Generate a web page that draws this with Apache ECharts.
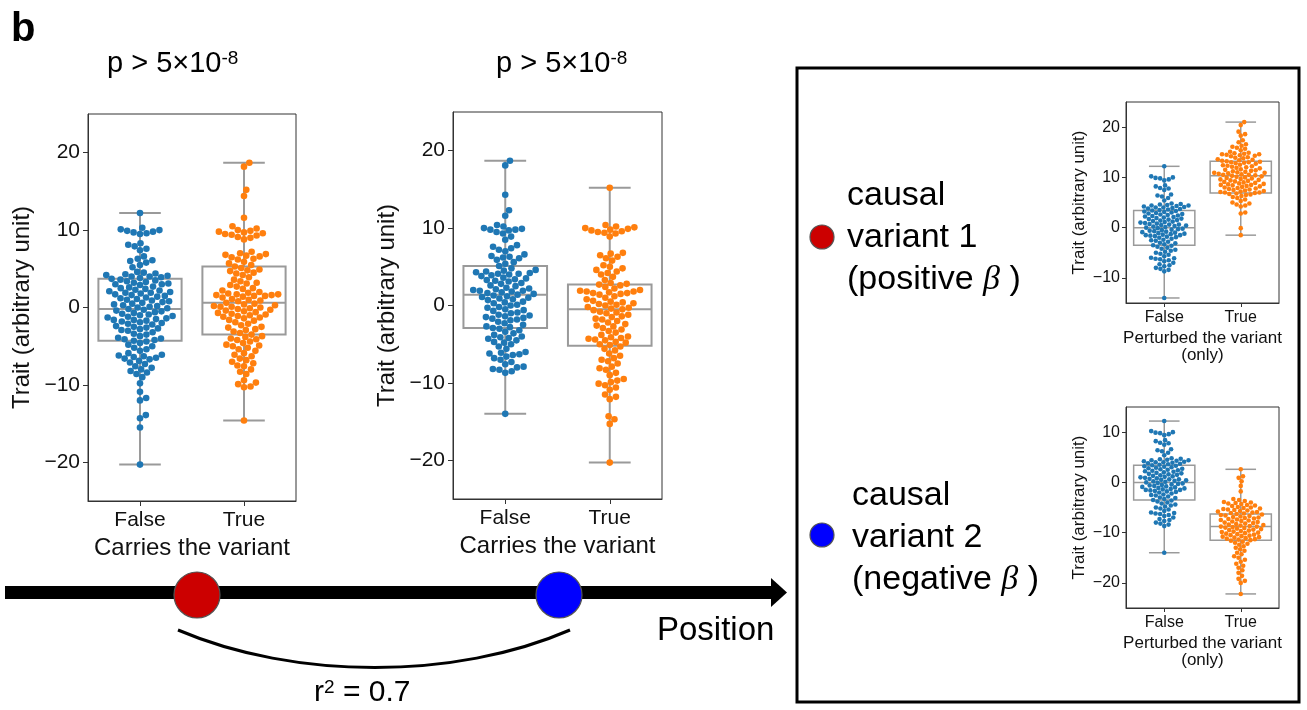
<!DOCTYPE html>
<html><head><meta charset="utf-8">
<script src="https://cdn.jsdelivr.net/npm/echarts@6/dist/echarts.min.js"></script>
<style>html,body{margin:0;padding:0;background:#fff}#c{width:1307px;height:710px}</style>
</head><body><div id="c"></div>
<script>
// ---------------- data ----------------
const categories = ['False', 'True'];
const bigTicks = [-20, -10, 0, 10, 20];
const inset1Ticks = [-10, 0, 10, 20];
const inset2Ticks = [-20, -10, 0, 10];

// panel 1 : carries variant 1
const p1False = [12.2, 10.3, 10.1, 10.0, 9.9, 9.8, 9.7, 9.6, 9.5, 8.3, 8.1, 7.9, 7.6, 7.4, 6.6, 6.3, 6.1, 6.0, 5.8, 5.5, 5.2,
  4.6, 4.5, 4.4, 4.3, 4.2, 4.1, 4.0, 4.0, 3.9, 3.8, 3.7, 3.6, 3.5, 3.4, 3.3, 3.2, 3.1, 3.0, 3.0, 2.9, 2.7, 2.6, 2.5, 2.4, 2.3, 2.2, 2.1, 2.0,
  1.9, 1.9, 1.8, 1.7, 1.6, 1.5, 1.4, 1.3, 1.2, 1.1, 1.0, 0.9, 0.8, 0.7, 0.6, 0.5, 0.4, 0.3, 0.2, 0.1, 0.0, -0.1, -0.2, -0.3, -0.4, -0.5,
  -0.6, -0.7, -0.8, -0.9, -1.0, -1.1, -1.2, -1.3, -1.4, -1.5, -1.6, -1.6, -1.7, -1.8, -1.9, -2.0, -2.1, -2.2, -2.4, -2.5, -2.6, -2.7, -2.8,
  -2.9, -3.0, -3.2, -3.4, -3.5, -3.7, -3.9, -4.0, -4.1, -4.2, -4.3, -4.4, -4.6, -4.8, -5.0, -5.2, -5.4, -5.6, -5.9, -6.1, -6.2, -6.3, -6.4,
  -6.5, -6.6, -6.7, -6.9, -7.1, -7.3, -7.6, -7.8, -8.0, -8.2, -8.4, -8.6, -9.0, -9.8, -10.9, -11.7, -12.0, -13.9, -14.3, -15.5, -20.3];
const p1True = [18.7, 18.2, 15.2, 14.4, 11.6, 10.5, 10.2, 10.0, 9.9, 9.8, 9.7, 9.6, 9.5, 9.4, 9.3, 9.1, 9.0, 8.8, 7.2, 7.0, 6.9, 6.8, 6.7,
  6.6, 6.5, 6.3, 6.2, 5.9, 5.7, 5.5, 5.3, 5.1, 4.9, 4.8, 4.7, 4.5, 4.4, 4.2, 3.9, 3.6, 3.4, 3.2, 3.1, 2.9, 2.7, 2.5, 2.4, 2.2, 2.0, 1.9,
  1.8, 1.7, 1.7, 1.6, 1.6, 1.5, 1.5, 1.4, 1.3, 1.1, 1.0, 0.9, 0.8, 0.6, 0.5, 0.4, 0.3, 0.2, 0.1, 0.1, 0.0, -0.1, -0.2, -0.3, -0.4, -0.5,
  -0.6, -0.7, -0.8, -0.9, -1.0, -1.1, -1.2, -1.3, -1.4, -1.6, -1.7, -1.9, -2.1, -2.3, -2.5, -2.6, -2.8, -2.9, -3.1, -3.3, -3.5, -3.7, -3.8,
  -4.0, -4.1, -4.2, -4.4, -4.6, -4.8, -4.9, -5.0, -5.2, -5.4, -5.6, -5.9, -6.1, -6.3, -6.6, -6.8, -7.0, -7.2, -7.5, -7.6, -8.0, -8.3, -8.6,
  -9.4, -9.7, -9.9, -10.2, -10.3, -14.6];
// panel 2 : carries variant 2
const p2False = [18.7, 18.1, 14.3, 12.3, 11.6, 10.4, 10.2, 10.0, 9.9, 9.8, 9.8, 9.7, 9.5, 9.3, 8.9, 8.5, 7.8, 7.6, 7.4, 7.2, 7.0, 6.6,
  6.4, 6.3, 6.2, 6.1, 5.9, 5.6, 5.4, 5.1, 4.8, 4.6, 4.5, 4.4, 4.3, 4.2, 4.1, 4.1, 4.0, 3.9, 3.8, 3.6, 3.5, 3.4, 3.3, 3.2, 3.1, 2.9, 2.8,
  2.6, 2.5, 2.3, 2.2, 2.1, 2.0, 1.9, 1.9, 1.8, 1.7, 1.6, 1.5, 1.4, 1.3, 1.2, 1.1, 1.0, 0.9, 0.8, 0.7, 0.5, 0.4, 0.3, 0.1, 0.0, -0.2, -0.3,
  -0.5, -0.6, -0.7, -0.9, -1.0, -1.2, -1.3, -1.4, -1.5, -1.6, -1.7, -1.8, -1.9, -2.1, -2.3, -2.5, -2.7, -2.8, -2.9, -3.0, -3.2, -3.4, -3.6,
  -3.8, -4.0, -4.1, -4.2, -4.3, -4.5, -4.7, -4.8, -5.0, -5.3, -5.6, -6.0, -6.1, -6.2, -6.3, -6.4, -6.6, -6.8, -7.0, -7.3, -7.6, -7.9, -8.0,
  -8.2, -8.3, -8.5, -8.7, -14.0];
const p2True = [15.2, 10.4, 10.2, 10.1, 10.0, 9.9, 9.8, 9.7, 9.6, 9.5, 9.4, 9.3, 8.9, 6.8, 6.7, 6.5, 6.3, 6.1, 5.8, 5.2, 5.0, 4.8, 4.6,
  4.4, 4.2, 4.0, 3.7, 3.3, 2.9, 2.8, 2.7, 2.6, 2.4, 2.2, 2.0, 1.9, 1.8, 1.8, 1.7, 1.6, 1.6, 1.5, 1.4, 1.2, 1.0, 0.8, 0.6, 0.5, 0.4, 0.3,
  0.2, 0.1, 0.0, -0.2, -0.3, -0.4, -0.5, -0.6, -0.8, -0.9, -1.0, -1.2, -1.4, -1.5, -1.7, -1.8, -2.0, -2.2, -2.4, -2.6, -2.7, -2.9, -3.1,
  -3.3, -3.5, -3.8, -4.0, -4.1, -4.2, -4.3, -4.4, -4.5, -4.7, -4.8, -5.0, -5.1, -5.3, -5.6, -5.8, -6.2, -6.5, -6.8, -7.0, -7.2, -7.5, -7.9,
  -8.1, -8.3, -8.7, -9.0, -9.5, -9.7, -9.9, -10.1, -10.3, -10.6, -10.9, -11.5, -11.8, -12.1, -14.3, -14.7, -15.3, -20.3];
// insets : perturbed the variant only
const insetFalse = [12.2, 10.2, 10.0, 9.9, 9.8, 9.6, 9.4, 8.4, 8.2, 7.9, 7.8, 7.5, 6.6, 6.4, 6.2, 5.9, 5.4, 4.8, 4.7, 4.6, 4.5, 4.4, 4.4,
  4.3, 4.2, 4.1, 4.0, 4.0, 3.9, 3.8, 3.7, 3.6, 3.5, 3.4, 3.3, 3.2, 3.1, 3.0, 2.9, 2.8, 2.7, 2.6, 2.5, 2.4, 2.3, 2.2, 2.1, 2.0, 1.9, 1.8,
  1.7, 1.6, 1.5, 1.4, 1.3, 1.2, 1.1, 1.0, 0.9, 0.8, 0.7, 0.6, 0.6, 0.5, 0.4, 0.3, 0.2, 0.1, 0.0, -0.1, -0.2, -0.3, -0.4, -0.5, -0.6, -0.7,
  -0.8, -0.9, -1.0, -1.1, -1.2, -1.3, -1.4, -1.5, -1.5, -1.6, -1.7, -1.8, -1.9, -2.0, -2.2, -2.4, -2.5, -2.6, -2.8, -3.0, -3.1, -3.3, -3.5,
  -3.6, -3.8, -4.0, -4.2, -4.4, -4.6, -4.8, -5.0, -5.2, -5.4, -5.7, -6.0, -6.1, -6.2, -6.3, -6.5, -6.7, -7.0, -7.3, -7.5, -7.7, -8.0, -8.2,
  -8.4, -8.7, -14.0];
const inset1True = [21.0, 20.4, 19.1, 18.6, 18.3, 17.4, 17.0, 16.6, 16.3, 16.1, 15.9, 15.7, 15.4, 15.1, 14.9, 14.8, 14.7, 14.6, 14.6, 14.5,
  14.4, 14.3, 14.2, 14.0, 13.9, 13.8, 13.6, 13.5, 13.4, 13.3, 13.2, 13.1, 13.0, 13.0, 12.9, 12.8, 12.7, 12.5, 12.4, 12.3, 12.2, 12.1, 12.0,
  11.9, 11.8, 11.6, 11.5, 11.4, 11.3, 11.2, 11.1, 11.0, 10.9, 10.9, 10.8, 10.7, 10.6, 10.5, 10.5, 10.4, 10.3, 10.2, 10.1, 10.0, 9.9, 9.8,
  9.7, 9.6, 9.5, 9.4, 9.3, 9.2, 9.1, 9.0, 8.9, 8.8, 8.7, 8.6, 8.5, 8.5, 8.4, 8.3, 8.2, 8.1, 8.0, 7.9, 7.8, 7.7, 7.6, 7.5, 7.4, 7.3, 7.2,
  7.1, 7.0, 7.0, 6.9, 6.8, 6.7, 6.6, 6.5, 6.3, 6.1, 5.9, 5.6, 5.3, 5.0, 4.8, 4.6, 4.4, 4.2, 3.0, 2.8, -0.1, -1.5];
const inset2True = [2.6, 1.2, 0.9, 0.2, -0.7, -1.8, -3.3, -3.5, -3.7, -3.9, -4.0, -4.1, -4.2, -4.3, -4.5, -4.6, -4.7, -4.9, -5.0, -5.1,
  -5.2, -5.3, -5.4, -5.5, -5.6, -5.7, -5.8, -5.9, -6.0, -6.1, -6.2, -6.3, -6.4, -6.5, -6.6, -6.7, -6.8, -6.9, -7.0, -7.1, -7.2, -7.3, -7.4,
  -7.5, -7.6, -7.7, -7.8, -7.9, -8.0, -8.1, -8.2, -8.3, -8.4, -8.5, -8.6, -8.7, -8.8, -8.8, -8.9, -9.0, -9.1, -9.2, -9.3, -9.4, -9.5, -9.6,
  -9.7, -9.8, -9.9, -10.0, -10.1, -10.2, -10.3, -10.4, -10.5, -10.6, -10.7, -10.8, -10.9, -11.0, -11.1, -11.2, -11.3, -11.4, -11.5, -11.6,
  -11.8, -12.0, -12.2, -12.4, -12.7, -13.0, -13.3, -13.6, -14.0, -14.3, -14.7, -15.0, -15.4, -15.8, -16.2, -16.6, -17.0, -17.5, -18.0,
  -18.6, -19.2, -19.6, -20.0, -22.2];

// box statistics [min, Q1, median, Q3, max]
const p1FalseBox = [-20.3, -4.3, -0.2, 3.7, 12.2];
const p1TrueBox = [-14.6, -3.5, 0.6, 5.3, 18.7];
const p2FalseBox = [-14.0, -2.9, 1.4, 5.1, 18.7];
const p2TrueBox = [-20.3, -5.2, -0.5, 2.7, 15.2];
const insetFalseBox = [-14.0, -3.5, 0.0, 3.4, 12.2];
const inset1TrueBox = [-1.5, 6.9, 10.3, 13.2, 21.0];
const inset2TrueBox = [-22.2, -11.5, -8.8, -6.3, 2.6];

// ---------------- layout ----------------
const FONT = '"Liberation Sans", Arial, sans-serif';
const BLUE = '#1f77b4', ORANGE = '#ff7f0e', BOXC = '#9a9a9a', AXC = '#333333';

const panels = [
  {grid: {left: 88, top: 114, width: 208, height: 387}, yr: [-25, 25], ticks: bigTicks,
   groups: [p1False, p1True], boxes: [p1FalseBox, p1TrueBox], big: true, xname: 'Carries the variant'},
  {grid: {left: 453, top: 112, width: 209, height: 387}, yr: [-25, 25], ticks: bigTicks,
   groups: [p2False, p2True], boxes: [p2FalseBox, p2TrueBox], big: true, xname: 'Carries the variant'},
  {grid: {left: 1126, top: 102, width: 153, height: 201}, yr: [-15, 25], ticks: inset1Ticks,
   groups: [insetFalse, inset1True], boxes: [insetFalseBox, inset1TrueBox], big: false, xname: 'Perturbed the variant\n(only)'},
  {grid: {left: 1126, top: 407, width: 153, height: 201}, yr: [-25, 15], ticks: inset2Ticks,
   groups: [insetFalse, inset2True], boxes: [insetFalseBox, inset2TrueBox], big: false, xname: 'Perturbed the variant\n(only)'}
];

// beeswarm layout (like seaborn's swarmplot) in pixel space
function swarm(values, pxPerUnit, d) {
  const idx = values.map((v, i) => i).sort((a, b) => values[a] - values[b]);
  const placed = [], out = new Array(values.length);
  for (const i of idx) {
    const y = values[i] * pxPerUnit;
    const near = placed.filter(p => Math.abs(p.y - y) < d);
    const cands = [0];
    for (const p of near) {
      const dx = Math.sqrt(d * d - (p.y - y) * (p.y - y));
      cands.push(p.x + dx, p.x - dx);
    }
    cands.sort((a, b) => Math.abs(a) - Math.abs(b));
    let chosen = 0;
    for (const c of cands) {
      if (near.every(p => (p.x - c) * (p.x - c) + (p.y - y) * (p.y - y) >= d * d - 1e-6)) { chosen = c; break; }
    }
    placed.push({x: chosen, y: y});
    out[i] = chosen;
  }
  return out;
}

const minus = v => String(v).replace('-', '\u2212');
const grid = [], xAxis = [], yAxis = [], series = [];
panels.forEach((P, k) => {
  const big = P.big;
  const tickFs = big ? 21 : 16, nameFs = big ? 24 : 17;
  grid.push(Object.assign({show: true, borderColor: AXC, borderWidth: 1, backgroundColor: 'transparent'}, P.grid));
  xAxis.push({
    gridIndex: k, type: 'value', min: -0.5, max: 1.5,
    splitLine: {show: false},
    axisLine: {show: true, onZero: false, lineStyle: {color: AXC, width: 1}},
    axisTick: {show: true, customValues: [0, 1], length: big ? 5 : 4, lineStyle: {color: AXC}},
    axisLabel: {customValues: [0, 1], formatter: v => categories[Math.round(v)], color: '#111',
      fontFamily: FONT, fontSize: tickFs, margin: big ? 9 : 7},
    name: P.xname, nameLocation: 'middle', nameGap: big ? 34 : 27,
    nameTextStyle: {fontFamily: FONT, fontSize: nameFs, color: '#111', lineHeight: big ? 24 : 17}
  });
  yAxis.push({
    gridIndex: k, type: 'value', min: P.yr[0], max: P.yr[1],
    splitLine: {show: false},
    axisLine: {show: true, onZero: false, lineStyle: {color: AXC, width: 1}},
    axisTick: {show: true, customValues: P.ticks, length: big ? 5 : 4, lineStyle: {color: AXC}},
    axisLabel: {customValues: P.ticks, formatter: minus, color: '#111', fontFamily: FONT, fontSize: tickFs, margin: big ? 8 : 6},
    name: 'Trait (arbitrary unit)', nameLocation: 'middle', nameGap: big ? 54 : 38, nameRotate: 90,
    nameTextStyle: {fontFamily: FONT, fontSize: nameFs, color: '#111'}
  });
  // boxes
  series.push({
    type: 'custom', xAxisIndex: k, yAxisIndex: k, z: 2, silent: true,
    data: P.boxes.map((b, i) => [i].concat(b)),
    renderItem: function (params, api) {
      const x = api.value(0);
      const mn = api.value(1), q1 = api.value(2), md = api.value(3), q3 = api.value(4), mx = api.value(5);
      const lw = big ? 2 : 1.5;
      const st = {stroke: BOXC, lineWidth: lw, fill: null};
      const L = (a, b) => ({type: 'line', shape: {x1: a[0], y1: a[1], x2: b[0], y2: b[1]}, style: st});
      const pA = api.coord([x - 0.4, q3]), pB = api.coord([x + 0.4, q1]);
      return {type: 'group', children: [
        L(api.coord([x, mn]), api.coord([x, q1])),
        L(api.coord([x, q3]), api.coord([x, mx])),
        L(api.coord([x - 0.2, mn]), api.coord([x + 0.2, mn])),
        L(api.coord([x - 0.2, mx]), api.coord([x + 0.2, mx])),
        {type: 'rect', shape: {x: pA[0], y: pA[1], width: pB[0] - pA[0], height: pB[1] - pA[1]}, style: st},
        L(api.coord([x - 0.4, md]), api.coord([x + 0.4, md]))
      ]};
    }
  });
  // swarm points
  const d = big ? 6.6 : 4.6;
  const pxPerUnitY = P.grid.height / (P.yr[1] - P.yr[0]);
  const pxPerUnitX = P.grid.width / 2;
  P.groups.forEach((vals, gi) => {
    const offs = swarm(vals, pxPerUnitY, d);
    series.push({
      type: 'scatter', xAxisIndex: k, yAxisIndex: k, z: 3, silent: true,
      symbolSize: d, itemStyle: {color: gi === 0 ? BLUE : ORANGE, opacity: 1},
      data: vals.map((v, i) => [gi + offs[i] / pxPerUnitX, v])
    });
  });
});

// ---------------- annotations ----------------
const graphic = [
  {type: 'text', x: 11, y: 30, style: {text: 'b', font: 'bold 40px ' + FONT, fill: '#000', textVerticalAlign: 'middle'}},
  {type: 'text', x: 107, y: 64, style: {text: '{a|p > 5×10}{s|-8}', fill: '#000', textVerticalAlign: 'middle',
    rich: {a: {font: '29px ' + FONT, fill: '#000'}, s: {font: '19px ' + FONT, fill: '#000', verticalAlign: 'top'}}}},
  {type: 'text', x: 496, y: 64, style: {text: '{a|p > 5×10}{s|-8}', fill: '#000', textVerticalAlign: 'middle',
    rich: {a: {font: '29px ' + FONT, fill: '#000'}, s: {font: '19px ' + FONT, fill: '#000', verticalAlign: 'top'}}}},
  // genome position arrow
  {type: 'rect', shape: {x: 5, y: 586, width: 770, height: 13}, style: {fill: '#000'}},
  {type: 'polygon', shape: {points: [[771, 578], [787, 592.5], [771, 607]]}, style: {fill: '#000'}},
  {type: 'ellipse', shape: {cx: 197, cy: 595, rx: 23, ry: 23}, style: {fill: '#cc0000', stroke: '#555', lineWidth: 1.2}},
  {type: 'ellipse', shape: {cx: 559, cy: 595, rx: 23, ry: 23}, style: {fill: '#0000ff', stroke: '#555', lineWidth: 1.2}},
  {type: 'text', x: 657, y: 631, style: {text: 'Position', font: '33px ' + FONT, fill: '#000', textVerticalAlign: 'middle'}},
  {type: 'bezierCurve', shape: {x1: 178, y1: 630, cpx1: 295, cpy1: 680, cpx2: 455, cpy2: 680, x2: 570, y2: 630},
    style: {stroke: '#000', lineWidth: 3, fill: null}},
  {type: 'text', x: 314, y: 693, style: {text: '{a|r}{s|2}{a| = 0.7}', fill: '#000', textVerticalAlign: 'middle',
    rich: {a: {font: '30px ' + FONT, fill: '#000'}, s: {font: '19px ' + FONT, fill: '#000', verticalAlign: 'top'}}}},
  // frame on the right
  {type: 'rect', shape: {x: 797, y: 68, width: 502, height: 634}, style: {fill: null, stroke: '#000', lineWidth: 3}},
  {type: 'circle', shape: {cx: 822, cy: 237, r: 12}, style: {fill: '#cc0000', stroke: '#555', lineWidth: 1.2}},
  {type: 'circle', shape: {cx: 822, cy: 535, r: 12}, style: {fill: '#0000ff', stroke: '#555', lineWidth: 1.2}},
  {type: 'text', x: 847, y: 238, style: {text: '{a|causal}\n{a|variant 1}\n{a|(positive }{b|β}{a| )}', fill: '#000',
    textVerticalAlign: 'middle',
    rich: {a: {font: '34px ' + FONT, fill: '#000', lineHeight: 42}, b: {font: 'italic 34px "Liberation Serif", serif', fill: '#000', lineHeight: 42}}}},
  {type: 'text', x: 852, y: 538, style: {text: '{a|causal}\n{a|variant 2}\n{a|(negative }{b|β}{a| )}', fill: '#000',
    textVerticalAlign: 'middle',
    rich: {a: {font: '34px ' + FONT, fill: '#000', lineHeight: 42}, b: {font: 'italic 34px "Liberation Serif", serif', fill: '#000', lineHeight: 42}}}}
];

const chart = echarts.init(document.getElementById('c'), null, {renderer: 'canvas'});
chart.setOption({
  animation: false, backgroundColor: '#fff',
  grid, xAxis, yAxis, series, graphic
});
</script></body></html>
